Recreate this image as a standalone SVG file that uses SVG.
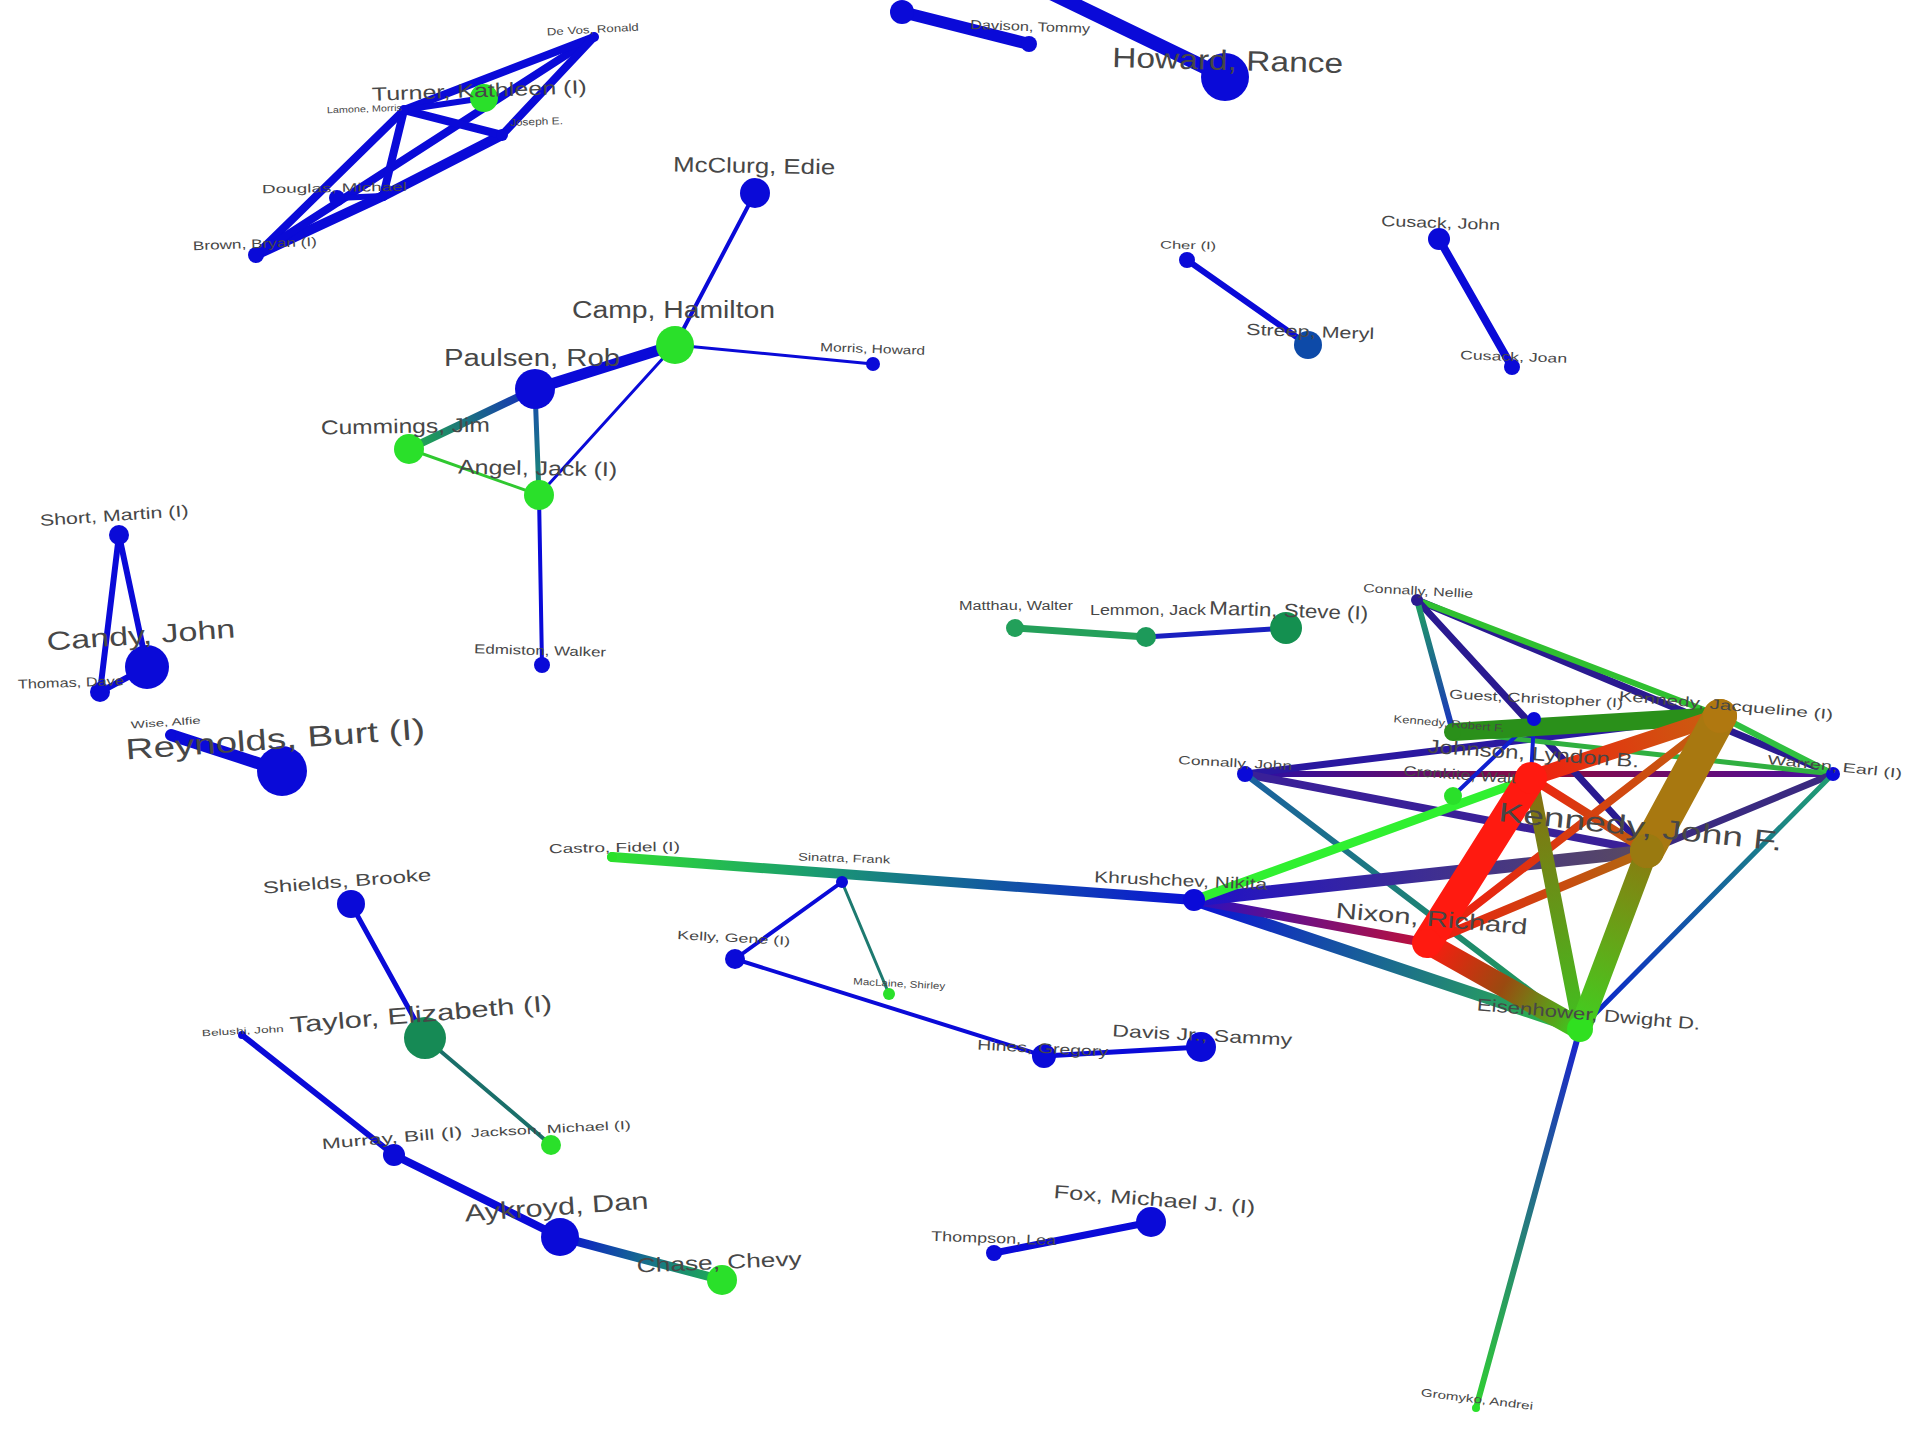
<svg xmlns="http://www.w3.org/2000/svg" width="1920" height="1440" viewBox="0 0 1920 1440">
<defs>
<style>
.e{fill:none;stroke-linecap:round}
.b{stroke:#0a0ad8}
.nb{fill:#0a0ad8}
.ng{fill:#2ae02a}
.nt{fill:#168a55}
.lbl{font-family:"Liberation Sans",Arial,sans-serif;fill:#474747}
</style>
<linearGradient id="gPC" gradientUnits="userSpaceOnUse" x1="535" y1="389" x2="409" y2="449"><stop offset="0" stop-color="#1428c0"/><stop offset="1" stop-color="#22b048"/></linearGradient>
<linearGradient id="gPA" gradientUnits="userSpaceOnUse" x1="535" y1="389" x2="539" y2="495"><stop offset="0" stop-color="#1848b0"/><stop offset="1" stop-color="#1a9070"/></linearGradient>
<linearGradient id="gAC" gradientUnits="userSpaceOnUse" x1="560" y1="1237" x2="722" y2="1280"><stop offset="0" stop-color="#0a10d0"/><stop offset="0.5" stop-color="#156a90"/><stop offset="1" stop-color="#20b050"/></linearGradient>
<linearGradient id="gCK" gradientUnits="userSpaceOnUse" x1="612" y1="857" x2="1194" y2="900"><stop offset="0" stop-color="#30e030"/><stop offset="0.35" stop-color="#1a9a70"/><stop offset="1" stop-color="#0a10d8"/></linearGradient>
<linearGradient id="gKI" gradientUnits="userSpaceOnUse" x1="1194" y1="900" x2="1580" y2="1029"><stop offset="0" stop-color="#0a10d8"/><stop offset="0.5" stop-color="#1a6a90"/><stop offset="1" stop-color="#30c040"/></linearGradient>
<linearGradient id="gKN" gradientUnits="userSpaceOnUse" x1="1194" y1="900" x2="1427" y2="943"><stop offset="0" stop-color="#2a10c0"/><stop offset="1" stop-color="#c01038"/></linearGradient>
<linearGradient id="gKJ" gradientUnits="userSpaceOnUse" x1="1194" y1="900" x2="1647" y2="851"><stop offset="0" stop-color="#2010c8"/><stop offset="1" stop-color="#5a4a60"/></linearGradient>
<linearGradient id="gNI" gradientUnits="userSpaceOnUse" x1="1427" y1="943" x2="1580" y2="1029"><stop offset="0" stop-color="#ff1a10"/><stop offset="0.5" stop-color="#9a4a10"/><stop offset="1" stop-color="#38d020"/></linearGradient>
<linearGradient id="gNJ" gradientUnits="userSpaceOnUse" x1="1427" y1="943" x2="1720" y2="716"><stop offset="0" stop-color="#f01a10"/><stop offset="1" stop-color="#c06010"/></linearGradient>
<linearGradient id="gNF" gradientUnits="userSpaceOnUse" x1="1427" y1="943" x2="1647" y2="851"><stop offset="0" stop-color="#f01a10"/><stop offset="1" stop-color="#b06a10"/></linearGradient>
<linearGradient id="gLJ" gradientUnits="userSpaceOnUse" x1="1531" y1="778" x2="1720" y2="716"><stop offset="0" stop-color="#f02010"/><stop offset="1" stop-color="#c86010"/></linearGradient>
<linearGradient id="gLF" gradientUnits="userSpaceOnUse" x1="1531" y1="778" x2="1647" y2="851"><stop offset="0" stop-color="#f02010"/><stop offset="1" stop-color="#b86010"/></linearGradient>
<linearGradient id="gLI" gradientUnits="userSpaceOnUse" x1="1531" y1="778" x2="1580" y2="1029"><stop offset="0" stop-color="#8a6a10"/><stop offset="1" stop-color="#40c020"/></linearGradient>
<linearGradient id="gFI" gradientUnits="userSpaceOnUse" x1="1647" y1="851" x2="1580" y2="1029"><stop offset="0" stop-color="#8a7a10"/><stop offset="1" stop-color="#40d020"/></linearGradient>
<linearGradient id="gCW" gradientUnits="userSpaceOnUse" x1="1245" y1="774" x2="1833" y2="774"><stop offset="0" stop-color="#2a10a8"/><stop offset="0.5" stop-color="#8a0a40"/><stop offset="1" stop-color="#4a10a0"/></linearGradient>
<linearGradient id="gCI" gradientUnits="userSpaceOnUse" x1="1245" y1="774" x2="1580" y2="1029"><stop offset="0" stop-color="#1a60a0"/><stop offset="1" stop-color="#20a050"/></linearGradient>
<linearGradient id="gNR" gradientUnits="userSpaceOnUse" x1="1417" y1="600" x2="1453" y2="732"><stop offset="0" stop-color="#20a060"/><stop offset="1" stop-color="#1a30c0"/></linearGradient>
<linearGradient id="gIW" gradientUnits="userSpaceOnUse" x1="1580" y1="1029" x2="1833" y2="774"><stop offset="0" stop-color="#0a20d0"/><stop offset="1" stop-color="#20a070"/></linearGradient>
<linearGradient id="gIG" gradientUnits="userSpaceOnUse" x1="1580" y1="1029" x2="1476" y2="1408"><stop offset="0" stop-color="#1a20d0"/><stop offset="1" stop-color="#30d030"/></linearGradient>
</defs>
<rect width="1920" height="1440" fill="#ffffff"/>
<g id="connectors">
<!-- top-left cluster -->
<line class="e b" stroke-width="8" x1="256" y1="255" x2="404" y2="110"/>
<line class="e b" stroke-width="10" x1="256" y1="255" x2="383" y2="196"/>
<line class="e b" stroke-width="10" x1="383" y1="196" x2="502" y2="135"/>
<line class="e b" stroke-width="8" x1="256" y1="255" x2="594" y2="37"/>
<line class="e b" stroke-width="8" x1="404" y1="110" x2="594" y2="37"/>
<line class="e b" stroke-width="8" x1="404" y1="110" x2="502" y2="135"/>
<line class="e b" stroke-width="8" x1="404" y1="110" x2="383" y2="196"/>
<line class="e b" stroke-width="8" x1="502" y1="135" x2="594" y2="37"/>
<line class="e b" stroke-width="6" x1="337" y1="198" x2="383" y2="196"/>
<line class="e b" stroke-width="6" x1="484" y1="98" x2="404" y2="110"/>
<!-- top center -->
<line class="e b" stroke-width="12" x1="902" y1="12" x2="1029" y2="44"/>
<line class="e b" stroke-width="14" x1="1053" y1="-6" x2="1225" y2="77"/>
<!-- camp cluster -->
<line class="e b" stroke-width="4" x1="755" y1="193" x2="675" y2="345"/>
<line class="e b" stroke-width="3" x1="675" y1="345" x2="873" y2="364"/>
<line class="e b" stroke-width="11" x1="675" y1="345" x2="535" y2="389"/>
<line class="e b" stroke-width="3" x1="675" y1="345" x2="539" y2="495"/>
<line class="e" stroke="url(#gPC)" stroke-width="8" x1="535" y1="389" x2="409" y2="449"/>
<line class="e" stroke="url(#gPA)" stroke-width="5" x1="535" y1="389" x2="539" y2="495"/>
<line class="e" stroke="#30c830" stroke-width="3" x1="409" y1="449" x2="539" y2="495"/>
<line class="e b" stroke-width="4" x1="539" y1="495" x2="542" y2="665"/>
<!-- left -->
<line class="e b" stroke-width="6" x1="119" y1="535" x2="147" y2="667"/>
<line class="e b" stroke-width="6" x1="119" y1="535" x2="100" y2="692"/>
<line class="e b" stroke-width="6" x1="100" y1="692" x2="147" y2="667"/>
<line class="e b" stroke-width="12" x1="171" y1="735" x2="282" y2="771"/>
<!-- top right -->
<line class="e b" stroke-width="6" x1="1187" y1="260" x2="1308" y2="345"/>
<line class="e b" stroke-width="8" x1="1439" y1="239" x2="1512" y2="367"/>
<!-- middle -->
<line class="e" stroke="#24a05a" stroke-width="7" x1="1015" y1="628" x2="1146" y2="637"/>
<line class="e" stroke="#1a20c0" stroke-width="5" x1="1146" y1="637" x2="1286" y2="628"/>
<!-- center -->
<line class="e" stroke="url(#gCK)" stroke-width="10" x1="612" y1="857" x2="1194" y2="900"/>
<line class="e b" stroke-width="4" x1="842" y1="882" x2="735" y2="959"/>
<line class="e" stroke="#1d7a70" stroke-width="3" x1="842" y1="882" x2="889" y2="994"/>
<line class="e b" stroke-width="4" x1="735" y1="959" x2="1044" y2="1056"/>
<line class="e b" stroke-width="5" x1="1044" y1="1056" x2="1201" y2="1047"/>
<!-- bottom left -->
<line class="e b" stroke-width="5" x1="351" y1="904" x2="425" y2="1038"/>
<line class="e" stroke="#1a6f6a" stroke-width="4" x1="425" y1="1038" x2="551" y2="1145"/>
<line class="e b" stroke-width="6" x1="242" y1="1035" x2="394" y2="1155"/>
<line class="e b" stroke-width="8" x1="394" y1="1155" x2="560" y2="1237"/>
<line class="e" stroke="url(#gAC)" stroke-width="9" x1="560" y1="1237" x2="722" y2="1280"/>
<line class="e b" stroke-width="7" x1="994" y1="1253" x2="1151" y2="1222"/>
<!-- right cluster -->
<line class="e" stroke="url(#gCW)" stroke-width="6" x1="1245" y1="774" x2="1833" y2="774"/>
<line class="e" stroke="#2a1a90" stroke-width="7" x1="1417" y1="600" x2="1833" y2="774"/>
<line class="e" stroke="#30c030" stroke-width="6" x1="1417" y1="600" x2="1720" y2="716"/>
<line class="e" stroke="#2a1a90" stroke-width="7" x1="1417" y1="600" x2="1647" y2="851"/>
<line class="e" stroke="url(#gNR)" stroke-width="6" x1="1417" y1="600" x2="1453" y2="732"/>
<line class="e" stroke="#2a18a0" stroke-width="7" x1="1245" y1="774" x2="1720" y2="716"/>
<line class="e" stroke="#3a2098" stroke-width="8" x1="1245" y1="774" x2="1647" y2="851"/>
<line class="e" stroke="url(#gCI)" stroke-width="6" x1="1245" y1="774" x2="1580" y2="1029"/>
<line class="e" stroke="#30b040" stroke-width="5" x1="1453" y1="732" x2="1833" y2="774"/>
<line class="e" stroke="#30c040" stroke-width="6" x1="1720" y1="716" x2="1833" y2="774"/>
<line class="e" stroke="#3a2a80" stroke-width="7" x1="1647" y1="851" x2="1833" y2="774"/>
<line class="e" stroke="url(#gIW)" stroke-width="5" x1="1580" y1="1029" x2="1833" y2="774"/>
<line class="e" stroke="url(#gIG)" stroke-width="6" x1="1580" y1="1029" x2="1476" y2="1408"/>
<line class="e" stroke="url(#gKI)" stroke-width="12" x1="1194" y1="900" x2="1580" y2="1029"/>
<line class="e" stroke="url(#gKN)" stroke-width="9" x1="1194" y1="900" x2="1427" y2="943"/>
<line class="e" stroke="url(#gKJ)" stroke-width="13" x1="1194" y1="900" x2="1647" y2="851"/>
<line class="e" stroke="#1020d0" stroke-width="4" x1="1534" y1="719" x2="1453" y2="796"/>
<line class="e" stroke="#1020d0" stroke-width="4" x1="1534" y1="719" x2="1531" y2="778"/>
<line class="e" stroke="#2a901a" stroke-width="18" x1="1453" y1="732" x2="1720" y2="716"/>
<line class="e" stroke="url(#gLF)" stroke-width="9" x1="1531" y1="778" x2="1647" y2="851"/>
<line class="e" stroke="url(#gNF)" stroke-width="9" x1="1427" y1="943" x2="1647" y2="851"/>
<line class="e" stroke="url(#gNJ)" stroke-width="8" x1="1427" y1="943" x2="1720" y2="716"/>
<line class="e" stroke="url(#gLJ)" stroke-width="16" x1="1531" y1="778" x2="1720" y2="716"/>
<line class="e" stroke="url(#gLI)" stroke-width="14" x1="1531" y1="778" x2="1580" y2="1029"/>
<line class="e" stroke="url(#gFI)" stroke-width="22" x1="1647" y1="851" x2="1580" y2="1029"/>
<line class="e" stroke="url(#gNI)" stroke-width="22" x1="1427" y1="943" x2="1580" y2="1029"/>
<line class="e" stroke="#a87810" stroke-width="34" x1="1647" y1="851" x2="1720" y2="716"/>
<line class="e" stroke="#30f030" stroke-width="9" x1="1194" y1="900" x2="1531" y2="778"/>
<line class="e" stroke="#ff1a10" stroke-width="30" x1="1427" y1="943" x2="1531" y2="778"/>
</g>
<!-- nodes: top-left cluster -->
<g id="n-devos"><circle class="nb" cx="594" cy="37" r="5"/><text class="lbl" x="547" y="33" font-size="10.5" textLength="92" lengthAdjust="spacingAndGlyphs" transform="rotate(-3 593 33)">De Vos, Ronald</text></g>
<g id="n-turner"><circle class="ng" cx="484" cy="98" r="14"/><text class="lbl" x="372" y="97" font-size="19" textLength="215" lengthAdjust="spacingAndGlyphs" transform="rotate(-2 479.5 97)">Turner, Kathleen (I)</text></g>
<g id="n-lamone"><circle class="nb" cx="404" cy="110" r="5"/><text class="lbl" x="327" y="112" font-size="9" textLength="75" lengthAdjust="spacingAndGlyphs" transform="rotate(-2 364.5 112)">Lamone, Morris</text></g>
<g id="n-joseph"><circle class="nb" cx="502" cy="135" r="6"/><text class="lbl" x="510" y="125" font-size="10" textLength="53" lengthAdjust="spacingAndGlyphs" transform="rotate(-2 536.5 125)">Joseph E.</text></g>
<g id="n-hidden"><circle class="nb" cx="383" cy="196" r="5"/></g>
<g id="n-douglas"><circle class="nb" cx="337" cy="198" r="8"/><text class="lbl" x="262" y="192" font-size="12" textLength="145" lengthAdjust="spacingAndGlyphs" transform="rotate(-1 334.5 192)">Douglas, Michael</text></g>
<g id="n-brown"><circle class="nb" cx="256" cy="255" r="8"/><text class="lbl" x="193" y="248" font-size="12.5" textLength="124" lengthAdjust="spacingAndGlyphs" transform="rotate(-2 255 248)">Brown, Bryan (I)</text></g>
<!-- top center -->
<g id="n-topA"><circle class="nb" cx="902" cy="12" r="12"/></g>
<g id="n-tommy"><circle class="nb" cx="1029" cy="44" r="8"/><text class="lbl" x="970" y="31" font-size="13" textLength="120" lengthAdjust="spacingAndGlyphs" transform="rotate(2 1030 31)">Davison, Tommy</text></g>
<g id="n-howard"><circle class="nb" cx="1225" cy="77" r="24"/><text class="lbl" x="1112" y="70" font-size="28" textLength="231" lengthAdjust="spacingAndGlyphs" transform="rotate(1.5 1227.5 70)">Howard, Rance</text></g>
<!-- camp cluster -->
<g id="n-mcclurg"><circle class="nb" cx="755" cy="193" r="15"/><text class="lbl" x="673" y="173" font-size="21" textLength="162" lengthAdjust="spacingAndGlyphs" transform="rotate(1 754 173)">McClurg, Edie</text></g>
<g id="n-camp"><circle class="ng" cx="675" cy="345" r="19"/><text class="lbl" x="572" y="318" font-size="23" textLength="203" lengthAdjust="spacingAndGlyphs">Camp, Hamilton</text></g>
<g id="n-morris"><circle class="nb" cx="873" cy="364" r="7"/><text class="lbl" x="820" y="353" font-size="12" textLength="105" lengthAdjust="spacingAndGlyphs" transform="rotate(2 872.5 353)">Morris, Howard</text></g>
<g id="n-paulsen"><circle class="nb" cx="535" cy="389" r="20"/><text class="lbl" x="444" y="366" font-size="23" textLength="176" lengthAdjust="spacingAndGlyphs">Paulsen, Rob</text></g>
<g id="n-cummings"><circle class="ng" cx="409" cy="449" r="15"/><text class="lbl" x="321" y="433" font-size="20" textLength="169" lengthAdjust="spacingAndGlyphs" transform="rotate(-1 405.5 433)">Cummings, Jim</text></g>
<g id="n-angel"><circle class="ng" cx="539" cy="495" r="15"/><text class="lbl" x="458" y="475" font-size="20" textLength="159" lengthAdjust="spacingAndGlyphs" transform="rotate(1 537.5 475)">Angel, Jack (I)</text></g>
<g id="n-edmiston"><circle class="nb" cx="542" cy="665" r="8"/><text class="lbl" x="474" y="655" font-size="13" textLength="132" lengthAdjust="spacingAndGlyphs" transform="rotate(1.5 540 655)">Edmiston, Walker</text></g>
<!-- left -->
<g id="n-short"><circle class="nb" cx="119" cy="535" r="10"/><text class="lbl" x="40" y="521" font-size="16" textLength="149" lengthAdjust="spacingAndGlyphs" transform="rotate(-3.8 114.5 521)">Short, Martin (I)</text></g>
<g id="n-candy"><circle class="nb" cx="147" cy="667" r="22"/><text class="lbl" x="47" y="644" font-size="26" textLength="189" lengthAdjust="spacingAndGlyphs" transform="rotate(-4 141.5 644)">Candy, John</text></g>
<g id="n-thomas"><circle class="nb" cx="100" cy="692" r="10"/><text class="lbl" x="18" y="687" font-size="13" textLength="106" lengthAdjust="spacingAndGlyphs" transform="rotate(-2 71 687)">Thomas, Dave</text></g>
<g id="n-wise"><circle class="nb" cx="171" cy="735" r="5"/><text class="lbl" x="131" y="726" font-size="10" textLength="70" lengthAdjust="spacingAndGlyphs" transform="rotate(-4 166 726)">Wise, Alfie</text></g>
<g id="n-reynolds"><circle class="nb" cx="282" cy="771" r="25"/><text class="lbl" x="126" y="749" font-size="29" textLength="300" lengthAdjust="spacingAndGlyphs" transform="rotate(-4 276 749)">Reynolds, Burt (I)</text></g>
<!-- top right -->
<g id="n-cher"><circle class="nb" cx="1187" cy="260" r="8"/><text class="lbl" x="1160" y="249" font-size="11" textLength="56" lengthAdjust="spacingAndGlyphs" transform="rotate(1 1188 249)">Cher (I)</text></g>
<g id="n-streep"><circle fill="#0d4aa8" cx="1308" cy="345" r="14"/><text class="lbl" x="1246" y="337" font-size="16" textLength="128" lengthAdjust="spacingAndGlyphs" transform="rotate(2 1310 337)">Streep, Meryl</text></g>
<g id="n-cusackjohn"><circle class="nb" cx="1439" cy="239" r="11"/><text class="lbl" x="1381" y="228" font-size="15" textLength="119" lengthAdjust="spacingAndGlyphs" transform="rotate(2 1440 228)">Cusack, John</text></g>
<g id="n-cusackjoan"><circle class="nb" cx="1512" cy="367" r="8"/><text class="lbl" x="1460" y="361" font-size="12.5" textLength="107" lengthAdjust="spacingAndGlyphs" transform="rotate(2 1513.5 361)">Cusack, Joan</text></g>
<!-- middle -->
<g id="n-matthau"><circle fill="#22a05a" cx="1015" cy="628" r="9"/><text class="lbl" x="959" y="610" font-size="12" textLength="114" lengthAdjust="spacingAndGlyphs">Matthau, Walter</text></g>
<g id="n-lemmon"><circle fill="#1d9a5a" cx="1146" cy="637" r="10"/><text class="lbl" x="1090" y="615" font-size="14" textLength="116" lengthAdjust="spacingAndGlyphs">Lemmon, Jack</text></g>
<g id="n-martin"><circle fill="#149050" cx="1286" cy="628" r="16"/><text class="lbl" x="1209" y="617" font-size="19" textLength="159" lengthAdjust="spacingAndGlyphs" transform="rotate(2 1288.5 617)">Martin, Steve (I)</text></g>
<!-- center -->
<g id="n-castro"><circle class="ng" cx="612" cy="857" r="5"/><text class="lbl" x="549" y="852" font-size="13" textLength="131" lengthAdjust="spacingAndGlyphs" transform="rotate(-1 614.5 852)">Castro, Fidel (I)</text></g>
<g id="n-sinatra"><circle class="nb" cx="842" cy="882" r="6"/><text class="lbl" x="798" y="862" font-size="11" textLength="92" lengthAdjust="spacingAndGlyphs" transform="rotate(2 844 862)">Sinatra, Frank</text></g>
<g id="n-kelly"><circle class="nb" cx="735" cy="959" r="10"/><text class="lbl" x="677" y="942" font-size="12" textLength="113" lengthAdjust="spacingAndGlyphs" transform="rotate(3 733.5 942)">Kelly, Gene (I)</text></g>
<g id="n-maclaine"><circle class="ng" cx="889" cy="994" r="6"/><text class="lbl" x="853" y="987" font-size="9.5" textLength="92" lengthAdjust="spacingAndGlyphs" transform="rotate(3 899 987)">MacLaine, Shirley</text></g>
<g id="n-hines"><circle class="nb" cx="1044" cy="1056" r="12"/><text class="lbl" x="977" y="1053" font-size="14" textLength="131" lengthAdjust="spacingAndGlyphs" transform="rotate(3 1042.5 1053)">Hines, Gregory</text></g>
<g id="n-davis"><circle class="nb" cx="1201" cy="1047" r="15"/><text class="lbl" x="1112" y="1041" font-size="17" textLength="180" lengthAdjust="spacingAndGlyphs" transform="rotate(3 1202 1041)">Davis Jr., Sammy</text></g>
<!-- bottom left -->
<g id="n-shields"><circle class="nb" cx="351" cy="904" r="14"/><text class="lbl" x="263" y="887" font-size="17" textLength="169" lengthAdjust="spacingAndGlyphs" transform="rotate(-4.5 347.5 887)">Shields, Brooke</text></g>
<g id="n-taylor"><circle class="nt" cx="425" cy="1038" r="21"/><text class="lbl" x="290" y="1022" font-size="23" textLength="263" lengthAdjust="spacingAndGlyphs" transform="rotate(-4.8 421.5 1022)">Taylor, Elizabeth (I)</text></g>
<g id="n-belushi"><circle class="nb" cx="242" cy="1035" r="4"/><text class="lbl" x="202" y="1034" font-size="9" textLength="82" lengthAdjust="spacingAndGlyphs" transform="rotate(-3 243 1034)">Belushi, John</text></g>
<g id="n-jackson"><circle class="ng" cx="551" cy="1145" r="10"/><text class="lbl" x="471" y="1133" font-size="12" textLength="160" lengthAdjust="spacingAndGlyphs" transform="rotate(-3 551 1133)">Jackson, Michael (I)</text></g>
<g id="n-murray"><circle class="nb" cx="394" cy="1155" r="11"/><text class="lbl" x="322" y="1143" font-size="15" textLength="141" lengthAdjust="spacingAndGlyphs" transform="rotate(-5 392.5 1143)">Murray, Bill (I)</text></g>
<g id="n-aykroyd"><circle class="nb" cx="560" cy="1237" r="19"/><text class="lbl" x="465" y="1215" font-size="24" textLength="184" lengthAdjust="spacingAndGlyphs" transform="rotate(-4 557 1215)">Aykroyd, Dan</text></g>
<g id="n-chase"><circle class="ng" cx="722" cy="1280" r="15"/><text class="lbl" x="637" y="1269" font-size="20" textLength="165" lengthAdjust="spacingAndGlyphs" transform="rotate(-2.5 719.5 1269)">Chase, Chevy</text></g>
<g id="n-thompson"><circle class="nb" cx="994" cy="1253" r="8"/><text class="lbl" x="931" y="1243" font-size="14" textLength="125" lengthAdjust="spacingAndGlyphs" transform="rotate(2 993.5 1243)">Thompson, Lea</text></g>
<g id="n-fox"><circle class="nb" cx="1151" cy="1222" r="15"/><text class="lbl" x="1053" y="1206" font-size="19" textLength="202" lengthAdjust="spacingAndGlyphs" transform="rotate(4.5 1154 1206)">Fox, Michael J. (I)</text></g>
<!-- right cluster -->
<g id="n-nellie"><circle fill="#2a1a90" cx="1417" cy="600" r="6"/><text class="lbl" x="1363" y="595" font-size="12" textLength="110" lengthAdjust="spacingAndGlyphs" transform="rotate(3 1418 595)">Connally, Nellie</text></g>
<g id="n-johnc"><circle class="nb" cx="1245" cy="774" r="8"/><text class="lbl" x="1178" y="767" font-size="12" textLength="114" lengthAdjust="spacingAndGlyphs" transform="rotate(3 1235 767)">Connally, John</text></g>
<g id="n-guest"><circle class="nb" cx="1534" cy="719" r="7"/><text class="lbl" x="1449" y="703" font-size="13" textLength="174" lengthAdjust="spacingAndGlyphs" transform="rotate(3 1536 703)">Guest, Christopher (I)</text></g>
<g id="n-rfk"><circle fill="#2a901a" cx="1453" cy="732" r="8"/><text class="lbl" x="1393" y="727" font-size="10.5" textLength="111" lengthAdjust="spacingAndGlyphs" transform="rotate(5 1448.5 727)">Kennedy, Robert F.</text></g>
<g id="n-cronkite"><circle class="ng" cx="1453" cy="796" r="9"/><text class="lbl" x="1403" y="780" font-size="14" textLength="129" lengthAdjust="spacingAndGlyphs" transform="rotate(4 1467.5 780)">Cronkite, Walter</text></g>
<g id="n-khrushchev"><circle class="nb" cx="1194" cy="900" r="11"/><text class="lbl" x="1094" y="886" font-size="16" textLength="173" lengthAdjust="spacingAndGlyphs" transform="rotate(2.5 1180.5 886)">Khrushchev, Nikita</text></g>
<g id="n-warren"><circle class="nb" cx="1833" cy="774" r="7"/><text class="lbl" x="1767" y="771" font-size="13" textLength="135" lengthAdjust="spacingAndGlyphs" transform="rotate(6 1834.5 771)">Warren, Earl (I)</text></g>
<g id="n-jackie"><circle fill="#b07810" cx="1720" cy="716" r="17"/><text class="lbl" x="1618" y="710" font-size="14" textLength="215" lengthAdjust="spacingAndGlyphs" transform="rotate(5 1725.5 710)">Kennedy, Jacqueline (I)</text></g>
<g id="n-jfk"><circle fill="#9a7a10" cx="1647" cy="851" r="17"/><text class="lbl" x="1497" y="836" font-size="27" textLength="285" lengthAdjust="spacingAndGlyphs" transform="rotate(6 1639.5 836)">Kennedy, John F.</text></g>
<g id="n-lbj"><circle fill="#ff1a10" cx="1531" cy="778" r="16"/><text class="lbl" x="1427" y="760" font-size="19" textLength="212" lengthAdjust="spacingAndGlyphs" transform="rotate(4 1533 760)">Johnson, Lyndon B.</text></g>
<g id="n-nixon"><circle fill="#ff1a10" cx="1427" cy="943" r="14"/><text class="lbl" x="1335" y="926" font-size="22" textLength="192" lengthAdjust="spacingAndGlyphs" transform="rotate(5 1431 926)">Nixon, Richard</text></g>
<g id="n-ike"><circle fill="#30e020" cx="1580" cy="1029" r="13"/><text class="lbl" x="1476" y="1020" font-size="17" textLength="224" lengthAdjust="spacingAndGlyphs" transform="rotate(5 1588 1020)">Eisenhower, Dwight D.</text></g>
<g id="n-gromyko"><circle class="ng" cx="1476" cy="1408" r="4"/><text class="lbl" x="1420" y="1403" font-size="11" textLength="113" lengthAdjust="spacingAndGlyphs" transform="rotate(7 1476.5 1403)">Gromyko, Andrei</text></g>
</svg>
